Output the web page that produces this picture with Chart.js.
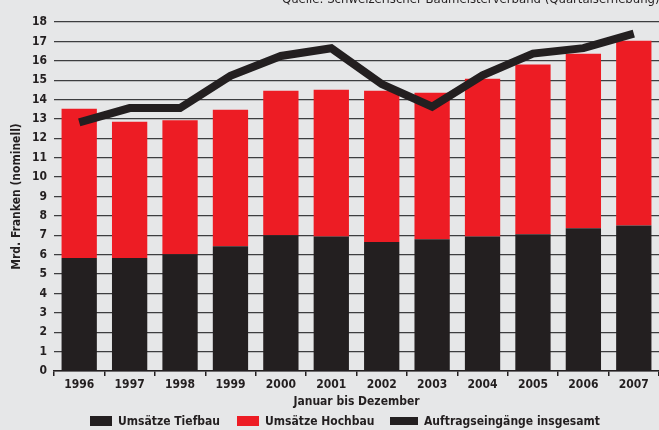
<!DOCTYPE html>
<html><head><meta charset="utf-8">
<script src="https://cdn.jsdelivr.net/npm/chart.js@4"></script>
<style>html,body{margin:0;padding:0;background:#e6e7e8;}#wrap{width:659px;height:430px;position:relative}</style>
</head><body><div id="wrap"><canvas id="c" width="659" height="430"></canvas></div>
<script>
const years = ['1996','1997','1998','1999','2000','2001','2002','2003','2004','2005','2006','2007'];
const tiefbau = [5.83, 5.83, 6.02, 6.43, 7.0, 6.94, 6.65, 6.79, 6.94, 7.05, 7.36, 7.51];
const hochbauTotal = [13.53, 12.86, 12.93, 13.48, 14.45, 14.5, 14.45, 14.35, 15.07, 15.81, 16.36, 17.03];
const hochbau = hochbauTotal.map((t, i) => +(t - tiefbau[i]).toFixed(2));
const auftrag = [12.82, 13.56, 13.56, 15.22, 16.25, 16.65, 14.8, 13.63, 15.25, 16.37, 16.65, 17.4];
const labels = ['Umsätze Tiefbau', 'Umsätze Hochbau', 'Auftragseingänge insgesamt'];
const yTitle = 'Mrd. Franken (nominell)';
const xTitle = 'Januar bis Dezember';
const source = 'Quelle: Schweizerischer Baumeisterverband (Quartalserhebung)';

const FONT = "'Liberation Sans Narrow','DejaVu Sans Condensed','Arial Narrow',sans-serif";
const BLACK = '#231f20', RED = '#ed1c24';
Chart.defaults.font.family = FONT;
Chart.defaults.color = BLACK;

const extras = {
  id: 'extras',
  afterDraw(chart) {
    const ctx = chart.ctx;
    ctx.save();
    ctx.fillStyle = BLACK;
    ctx.font = "13px " + FONT;
    ctx.textBaseline = 'alphabetic';
    ctx.textAlign = 'left';
    ctx.fillText(source, 282, 3);
    const items = [
      {x: 90, w: 22, h: 10, c: BLACK, t: labels[0]},
      {x: 237, w: 22, h: 10, c: RED, t: labels[1]},
      {x: 390, w: 28, h: 8, c: BLACK, t: labels[2]}
    ];
    const cy = 421;
    ctx.font = "bold 12px " + FONT;
    ctx.textBaseline = 'middle';
    items.forEach(it => {
      ctx.fillStyle = it.c;
      ctx.fillRect(it.x, cy - it.h / 2, it.w, it.h);
      ctx.fillStyle = BLACK;
      ctx.fillText(it.t, it.x + it.w + 6, cy + 1);
    });
    ctx.restore();
  }
};

new Chart(document.getElementById('c'), {
  data: {
    labels: years,
    datasets: [
      {type: 'line', label: labels[2], data: auftrag, borderColor: BLACK, backgroundColor: BLACK,
       borderWidth: 8, pointRadius: 0, tension: 0, stack: 'line', order: 0, borderJoinStyle: 'miter'},
      {type: 'bar', label: labels[0], data: tiefbau, backgroundColor: BLACK, stack: 's', order: 1,
       barPercentage: 0.7, categoryPercentage: 1},
      {type: 'bar', label: labels[1], data: hochbau, backgroundColor: RED, stack: 's', order: 1,
       barPercentage: 0.7, categoryPercentage: 1}
    ]
  },
  options: {
    responsive: false,
    animation: false,
    layout: {padding: {top: 22, right: 0, bottom: 21, left: 0}},
    plugins: {legend: {display: false}, tooltip: {enabled: false}},
    scales: {
      x: {
        stacked: true,
        grid: {drawOnChartArea: false, drawTicks: true, tickLength: 5, color: BLACK, lineWidth: 1.5, offset: true},
        border: {display: true, color: BLACK, width: 1.5},
        ticks: {font: {size: 12, weight: 'bold'}, color: BLACK, padding: 2, maxRotation: 0},
        title: {display: true, text: xTitle, font: {size: 12, weight: 'bold'}, color: BLACK, padding: {top: 0, bottom: 0}},
        afterFit(s) { s.height = 38; }
      },
      y: {
        stacked: true,
        min: 0, max: 18,
        grid: {drawTicks: false, color: '#3d3d3f', lineWidth: 1.3},
        border: {display: false},
        ticks: {stepSize: 1, font: {size: 12, weight: 'bold'}, color: BLACK, padding: 7},
        title: {display: true, text: yTitle, font: {size: 12, weight: 'bold'}, color: BLACK, padding: {top: 10, bottom: 0}},
        afterFit(s) { s.width = 54; }
      }
    }
  },
  plugins: [extras]
});
</script></body></html>
